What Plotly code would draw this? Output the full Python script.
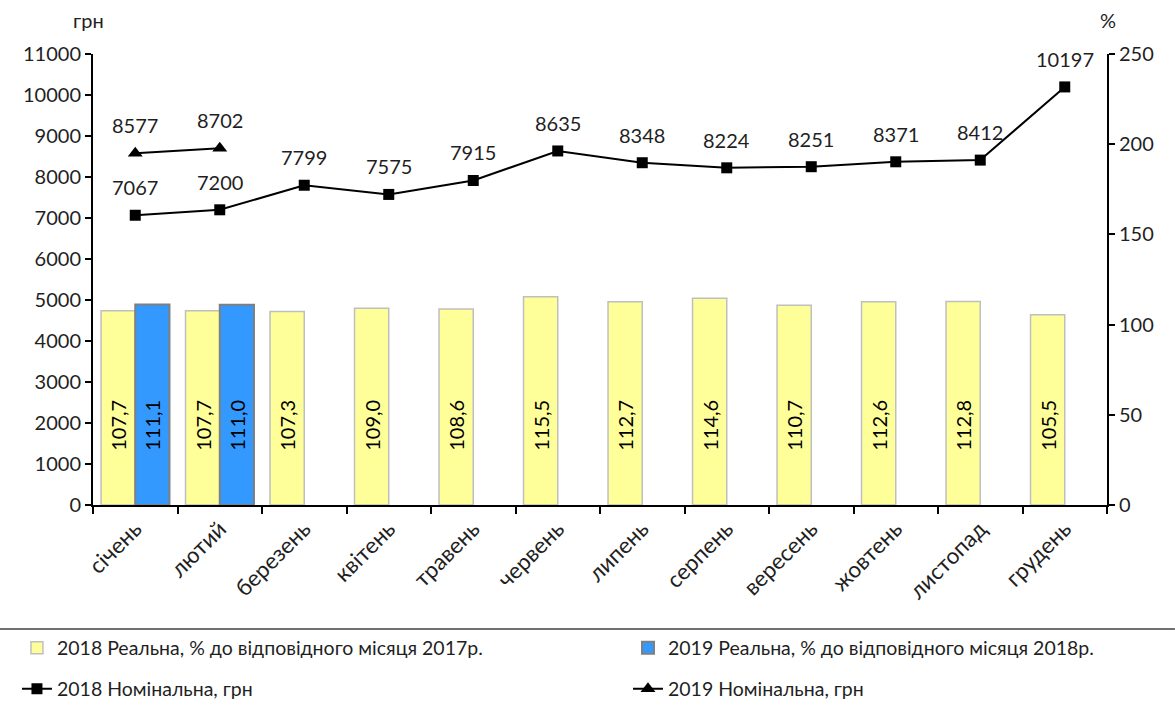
import plotly.graph_objects as go

months = ["січень", "лютий", "березень", "квітень", "травень", "червень",
          "липень", "серпень", "вересень", "жовтень", "листопад", "грудень"]
real_2018 = [107.7, 107.7, 107.3, 109.0, 108.6, 115.5, 112.7, 114.6, 110.7, 112.6, 112.8, 105.5]
real_2019 = [111.1, 111.0, None, None, None, None, None, None, None, None, None, None]
nom_2018 = [7067, 7200, 7799, 7575, 7915, 8635, 8348, 8224, 8251, 8371, 8412, 10197]
nom_2019 = [8577, 8702]

FONT = "Lato"
TXT = "#1f1f1f"
PAD = "\u00a0" * 10

def fmt(v):
    return "" if v is None else PAD + f"{v:.1f}".replace(".", ",")

fig = go.Figure()
fig.add_trace(go.Bar(
    x=months, y=real_2018, name="2018 Реальна, % до відповідного місяця 2017р.",
    marker=dict(color="#FFFF99", line=dict(color="#BFBFBF", width=1.5)),
    text=[fmt(v) for v in real_2018], textposition="inside", insidetextanchor="start",
    textangle=-90, textfont=dict(size=20, color="black", family=FONT),
    yaxis="y", legend="legend", showlegend=True))
fig.add_trace(go.Bar(
    x=months, y=real_2019, name="2019 Реальна, % до відповідного місяця 2018р.",
    marker=dict(color="#3399FF", line=dict(color="#7F7F7F", width=2)),
    text=[fmt(v) for v in real_2019], textposition="inside", insidetextanchor="start",
    textangle=-90, textfont=dict(size=20, color="black", family=FONT),
    yaxis="y", legend="legend2", showlegend=True))
fig.add_trace(go.Scatter(
    x=months, y=nom_2018, name="2018 Номінальна, грн", mode="lines+markers",
    line=dict(color="black", width=2), marker=dict(symbol="square", size=11, color="black"),
    yaxis="y2", legend="legend3", showlegend=True))
fig.add_trace(go.Scatter(
    x=months[:len(nom_2019)], y=nom_2019, name="2019 Номінальна, грн", mode="lines+markers",
    line=dict(color="black", width=2), marker=dict(symbol="triangle-up", size=13, color="black"),
    yaxis="y2", legend="legend4", showlegend=True))

annotations = []
for m, v in zip(months, nom_2018):
    annotations.append(dict(x=m, y=v, xref="x", yref="y2", text=str(v), showarrow=False,
                            yshift=28, font=dict(size=20, family=FONT, color=TXT)))
for m, v in zip(months, nom_2019):
    annotations.append(dict(x=m, y=v, xref="x", yref="y2", text=str(v), showarrow=False,
                            yshift=28, font=dict(size=20, family=FONT, color=TXT)))
annotations.append(dict(x=0, y=1.0, xref="paper", yref="paper", text="грн", showarrow=False,
                        xanchor="center", yanchor="bottom", font=dict(size=20, family=FONT, color=TXT),
                        xshift=-5, yshift=20))
annotations.append(dict(x=1, y=1.0, xref="paper", yref="paper", text="%", showarrow=False,
                        xanchor="center", yanchor="bottom", font=dict(size=20, family=FONT, color=TXT),
                        xshift=1, yshift=20))

leg_common = dict(orientation="h", xanchor="left", yanchor="middle", bgcolor="rgba(0,0,0,0)",
                  font=dict(size=19.5, family=FONT, color=TXT))

fig.update_layout(
    width=1175, height=709,
    showlegend=True,
    margin=dict(l=93, r=68, t=54, b=204, autoexpand=False),
    paper_bgcolor="white", plot_bgcolor="white",
    font=dict(family=FONT, size=20, color=TXT),
    barmode="group", bargap=0.19, bargroupgap=0,
    xaxis=dict(range=[-0.5, len(months) - 0.5], showline=True, linecolor="black", linewidth=2,
               ticks="outside", ticklen=7, tickcolor="black", tickwidth=2, tickson="boundaries",
               tickangle=-45, tickfont=dict(size=22.5, family=FONT, color=TXT), showgrid=False,
               automargin=False),
    yaxis=dict(side="right", range=[0, 250], dtick=50, showline=True, linecolor="black",
               linewidth=2, ticks="outside", ticklen=6, tickcolor="black", tickwidth=2,
               showgrid=False, zeroline=False, automargin=False,
               tickfont=dict(size=20, family=FONT, color=TXT)),
    yaxis2=dict(side="left", overlaying="y", range=[0, 11000], dtick=1000, tickformat="d",
                showline=True, linecolor="black", linewidth=2, ticks="outside", ticklen=6,
                tickcolor="black", tickwidth=2, showgrid=False, zeroline=False, automargin=False,
                tickfont=dict(size=20, family=FONT, color=TXT)),
    legend=dict(x=-0.075, y=-0.317, **leg_common),
    legend2=dict(x=0.5276, y=-0.317, **leg_common),
    legend3=dict(x=-0.075, y=-0.408, **leg_common),
    legend4=dict(x=0.5276, y=-0.408, **leg_common),
    annotations=annotations,
    shapes=[dict(type="line", xref="paper", yref="paper", x0=-0.092, x1=1.067,
                 y0=-0.275, y1=-0.275, line=dict(color="#404040", width=1.5))],
)

fig.write_html("out.html", config={"displayModeBar": False},
               post_script="document.body.style.margin='0';")
